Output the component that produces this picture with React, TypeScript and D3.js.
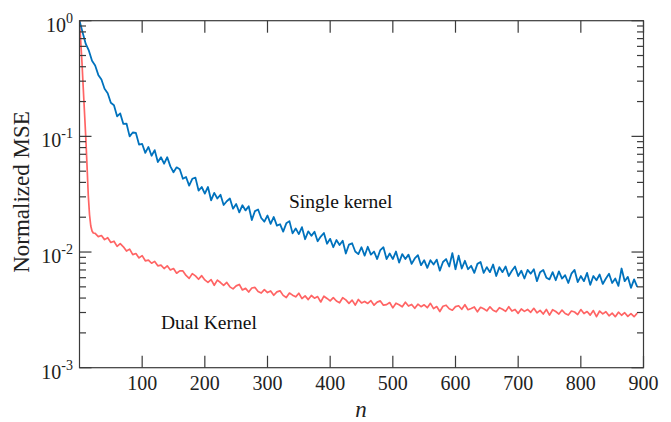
import React from "react";
import * as d3 from "d3";

// Single kernel: samples at n = 0, 5, 10, ... 890
const singleKernel = [
  1.0, 0.79, 0.63, 0.55, 0.45, 0.41, 0.34, 0.31, 0.258, 0.236,
  0.195, 0.186, 0.149, 0.158, 0.128, 0.129, 0.1, 0.108, 0.107, 0.085,
  0.086, 0.072, 0.081, 0.068, 0.076, 0.06, 0.066, 0.058, 0.066, 0.055,
  0.049, 0.054, 0.052, 0.043, 0.0445, 0.0375, 0.043, 0.044, 0.034, 0.0365,
  0.032, 0.0365, 0.028, 0.0325, 0.029, 0.0313, 0.0255, 0.0275, 0.029, 0.0237,
  0.026, 0.022, 0.0254, 0.0229, 0.0249, 0.0189, 0.0226, 0.0233, 0.0197, 0.0183,
  0.0207, 0.0175, 0.0201, 0.0169, 0.0174, 0.015, 0.0177, 0.0185, 0.0145, 0.016,
  0.0143, 0.0164, 0.0129, 0.0151, 0.0138, 0.015, 0.0124, 0.0136, 0.0146, 0.0118,
  0.013, 0.011, 0.0127, 0.0115, 0.0125, 0.0097, 0.0116, 0.0119, 0.0101, 0.0096,
  0.011, 0.0093, 0.0111, 0.0095, 0.0101, 0.0087, 0.0104, 0.011, 0.0087, 0.0097,
  0.0087, 0.0101, 0.0081, 0.0096, 0.0087, 0.0095, 0.0079, 0.0088, 0.0094, 0.0077,
  0.0085, 0.0073, 0.0085, 0.0078, 0.0086, 0.0069, 0.0082, 0.0087, 0.0075, 0.0098,
  0.0071, 0.0093, 0.0072, 0.0084, 0.0071, 0.0076, 0.0066, 0.0079, 0.0082, 0.0066,
  0.0074, 0.0067, 0.0078, 0.0062, 0.0074, 0.0067, 0.0075, 0.0062, 0.0069, 0.0075,
  0.0062, 0.0069, 0.0059, 0.007, 0.0065, 0.0071, 0.0056, 0.0067, 0.007, 0.006,
  0.0058, 0.0067, 0.0057, 0.0068, 0.0059, 0.0063, 0.0054, 0.0065, 0.007, 0.0055,
  0.0062, 0.0056, 0.0066, 0.0052, 0.0062, 0.0057, 0.0064, 0.0053, 0.0059, 0.0065,
  0.0054, 0.0059, 0.0051, 0.0072, 0.0056, 0.0061, 0.0049, 0.0058, 0.005,
];
const singleStep = 5;

// Dual kernel: fast initial drop, then samples at n = 25, 30, ... 890
const dualEarlyN = [0, 2, 4, 6, 8, 10, 12, 14, 16, 18, 20, 22];
const dualEarly = [1.0, 0.66, 0.43, 0.26, 0.16, 0.098, 0.056, 0.031, 0.021, 0.0168, 0.0152, 0.0146];
const dualTailStart = 25;
const dualTail = [
  0.0145, 0.0136, 0.0139, 0.0128, 0.0133, 0.0121, 0.0124, 0.0112, 0.0118, 0.0111,
  0.0102, 0.0106, 0.0095, 0.0097, 0.0089, 0.0093, 0.0084, 0.0085, 0.008, 0.0083,
  0.0076, 0.0077, 0.0072, 0.0076, 0.007,
  0.0072, 0.00656, 0.00687, 0.00686, 0.00627, 0.00592, 0.00651, 0.00622, 0.00582, 0.00625,
  0.00574, 0.00547, 0.00577, 0.00516, 0.00572, 0.00545, 0.00514, 0.00546, 0.005, 0.0048,
  0.0051, 0.00525, 0.0047, 0.00485, 0.00451, 0.00489, 0.00494, 0.00456, 0.00442, 0.00473,
  0.00446, 0.00461, 0.00423, 0.00452, 0.00462, 0.00422, 0.00404, 0.00442, 0.00424, 0.0041,
  0.0044, 0.00396, 0.00418, 0.00388, 0.00421, 0.00399, 0.00412, 0.0037, 0.00415, 0.00397,
  0.00378, 0.00404, 0.00377, 0.00364, 0.00403, 0.00386, 0.0036, 0.00384, 0.00348, 0.00389,
  0.00363, 0.00374, 0.00359, 0.0038, 0.00347, 0.00369, 0.00378, 0.00347, 0.00351, 0.00366,
  0.00329, 0.00361, 0.0035, 0.00336, 0.00368, 0.00341, 0.00352, 0.00326, 0.00354, 0.00337,
  0.0035, 0.0033, 0.0036, 0.00324, 0.00338, 0.00306, 0.0034, 0.00347, 0.00323, 0.00314,
  0.00337, 0.00343, 0.0032, 0.0035, 0.00317, 0.00325, 0.00335, 0.00304, 0.00333, 0.00323,
  0.0031, 0.00336, 0.00314, 0.00304, 0.0033, 0.0032, 0.00307, 0.00337, 0.00309, 0.00319,
  0.00295, 0.00322, 0.00307, 0.00319, 0.00301, 0.00326, 0.00298, 0.00313, 0.00291, 0.00319,
  0.00285, 0.00317, 0.00306, 0.00291, 0.00315, 0.00294, 0.00285, 0.00309, 0.00303, 0.00288,
  0.00318, 0.00294, 0.00306, 0.00285, 0.00312, 0.00276, 0.00309, 0.00292, 0.00305, 0.00281,
  0.00296, 0.00276, 0.00302, 0.00284, 0.00299, 0.00278, 0.00293, 0.00276, 0.00296,
];
const dualStep = 5;

const xTicks = [100, 200, 300, 400, 500, 600, 700, 800, 900];
const yMajor = [1e-3, 1e-2, 1e-1, 1];
const yMajorExp = ["-3", "-2", "-1", "0"];

const W = 671, H = 422;
const M = { left: 79.5, right: 643.5, top: 20.7, bottom: 367.7 };
const BLUE = "#0072BD";
const RED = "#FF6464";
const AX = "#3a3a3a";
const FONT = "'Liberation Serif', 'Times New Roman', 'DejaVu Serif', serif";

export default function App() {
  const x = d3.scaleLinear().domain([0, 900]).range([M.left, M.right]);
  const y = d3.scaleLog().domain([1e-3, 1]).range([M.bottom, M.top]);

  const singlePts: [number, number][] = singleKernel.map((v, i) => [i * singleStep, v]);
  const dualPts: [number, number][] = [
    ...dualEarlyN.map((n, i) => [n, dualEarly[i]] as [number, number]),
    ...dualTail.map((v, i) => [dualTailStart + i * dualStep, v] as [number, number]),
  ];
  const line = d3.line<[number, number]>().x((d) => x(d[0])).y((d) => y(d[1]));

  const minor: number[] = [];
  for (let e = -3; e < 0; e++) for (let k = 2; k <= 9; k++) minor.push(k * Math.pow(10, e));

  const majLen = 12, minLen = 6.5;

  return (
    <svg width={W} height={H} style={{ position: "absolute", left: 0, top: 0, background: "#fff" }}>
      <defs>
        <clipPath id="plotclip">
          <rect x={M.left} y={M.top} width={M.right - M.left} height={M.bottom - M.top} />
        </clipPath>
      </defs>
      <g clipPath="url(#plotclip)" fill="none" strokeLinejoin="round">
        <path d={line(dualPts) || ""} stroke={RED} strokeWidth={1.7} />
        <path d={line(singlePts) || ""} stroke={BLUE} strokeWidth={1.8} />
      </g>
      {/* frame */}
      <rect x={M.left} y={M.top} width={M.right - M.left} height={M.bottom - M.top} fill="none" stroke={AX} strokeWidth={1.2} />
      {/* x ticks */}
      {xTicks.map((t) => (
        <g key={"x" + t}>
          <line x1={x(t)} x2={x(t)} y1={M.bottom} y2={M.bottom - majLen} stroke={AX} strokeWidth={1.2} />
          <line x1={x(t)} x2={x(t)} y1={M.top} y2={M.top + majLen} stroke={AX} strokeWidth={1.2} />
          <text x={x(t)} y={390} textAnchor="middle" fontFamily={FONT} fontSize={20} fill="#222">{t}</text>
        </g>
      ))}
      {/* y ticks */}
      {yMajor.map((t, i) => (
        <g key={"y" + t}>
          <line x1={M.left} x2={M.left + majLen} y1={y(t)} y2={y(t)} stroke={AX} strokeWidth={1.2} />
          <line x1={M.right} x2={M.right - majLen} y1={y(t)} y2={y(t)} stroke={AX} strokeWidth={1.2} />
          <text x={73} y={y(t) + 11} textAnchor="end" fontFamily={FONT} fontSize={20} fill="#222">
            10<tspan dy={-9} fontSize={14}>{yMajorExp[i]}</tspan>
          </text>
        </g>
      ))}
      {minor.map((t) => (
        <g key={"m" + t}>
          <line x1={M.left} x2={M.left + minLen} y1={y(t)} y2={y(t)} stroke={AX} strokeWidth={1.2} />
          <line x1={M.right} x2={M.right - minLen} y1={y(t)} y2={y(t)} stroke={AX} strokeWidth={1.2} />
        </g>
      ))}
      {/* labels */}
      <text x={361} y={417} textAnchor="middle" fontFamily={FONT} fontStyle="italic" fontSize={23} fill="#222">n</text>
      <text transform="translate(29,192) rotate(-90)" textAnchor="middle" fontFamily={FONT} fontSize={23} fill="#222">Normalized MSE</text>
      <text x={289} y={208} fontFamily={FONT} fontSize={19.5} fill="#111">Single kernel</text>
      <text x={161} y={329} fontFamily={FONT} fontSize={19.5} fill="#111">Dual Kernel</text>
    </svg>
  );
}
